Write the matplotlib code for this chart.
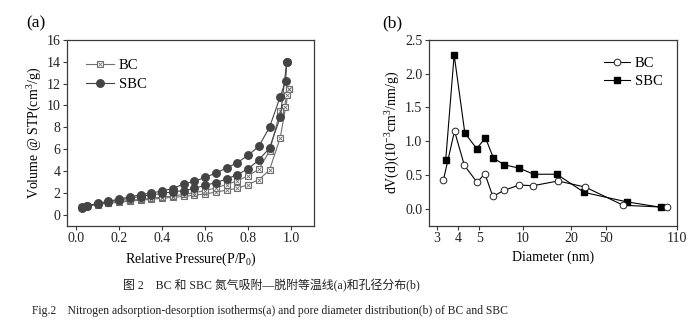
import numpy as np
import matplotlib
matplotlib.use("Agg")
import matplotlib.pyplot as plt
from matplotlib.legend_handler import HandlerTuple

# ---------------- data ----------------
# (a) N2 isotherms
bc_ads_p = [0.03, 0.05, 0.10, 0.15, 0.20, 0.25, 0.30, 0.35, 0.40, 0.45, 0.50, 0.55, 0.60,
            0.65, 0.70, 0.75, 0.80, 0.85, 0.90, 0.95, 0.99]
bc_ads_v = [0.65, 0.75, 0.92, 1.03, 1.13, 1.22, 1.32, 1.40, 1.50, 1.58, 1.66, 1.78, 1.90,
            2.05, 2.25, 2.40, 2.75, 3.20, 4.08, 7.05, 11.5]
bc_des_p = [0.99, 0.98, 0.97, 0.95, 0.90, 0.85, 0.80, 0.75, 0.70, 0.65, 0.60, 0.55, 0.50,
            0.45, 0.40, 0.35, 0.30, 0.25, 0.20, 0.15, 0.10, 0.05, 0.03]
bc_des_v = [11.5, 11.0, 9.9, 9.5, 5.8, 4.15, 3.55, 3.10, 2.75, 2.45, 2.20, 2.00, 1.85,
            1.70, 1.60, 1.50, 1.40, 1.30, 1.20, 1.10, 0.95, 0.80, 0.70]
sbc_ads_p = [0.03, 0.05, 0.10, 0.15, 0.20, 0.25, 0.30, 0.35, 0.40, 0.45, 0.50, 0.55, 0.60,
             0.65, 0.70, 0.75, 0.80, 0.85, 0.90, 0.95, 0.98]
sbc_ads_v = [0.62, 0.78, 1.00, 1.18, 1.33, 1.50, 1.65, 1.80, 1.95, 2.08, 2.20, 2.40, 2.68,
             2.93, 3.26, 3.66, 4.18, 5.00, 6.10, 8.92, 13.95]
sbc_des_p = [0.98, 0.975, 0.95, 0.90, 0.85, 0.80, 0.75, 0.70, 0.65, 0.60, 0.55, 0.50, 0.45,
             0.40, 0.35, 0.30, 0.25, 0.20, 0.15, 0.10, 0.05, 0.03]
sbc_des_v = [13.95, 12.25, 10.8, 8.0, 6.25, 5.43, 4.75, 4.27, 3.80, 3.40, 3.05, 2.80, 2.38,
             2.17, 1.97, 1.82, 1.62, 1.42, 1.22, 1.02, 0.82, 0.70]

# (b) pore size distribution
bc_d = [3.27, 3.82, 4.28, 4.88, 5.45, 6.19, 7.38, 9.43, 11.6, 16.6, 29.0, 60.4, 98.4]
bc_dv = [0.42, 1.15, 0.64, 0.39, 0.52, 0.18, 0.27, 0.35, 0.34, 0.41, 0.32, 0.05, 0.02]
sbc_d = [3.38, 3.80, 4.30, 4.86, 5.50, 6.25, 7.43, 9.43, 11.7, 16.3, 28.3, 63.0, 92.0]
sbc_dv = [0.72, 2.28, 1.12, 0.89, 1.05, 0.75, 0.65, 0.60, 0.51, 0.51, 0.24, 0.10, 0.02]
b_ticks = [3, 4, 5, 10, 20, 50, 110]
b_ticklabels = ["3", "4", "5", "10", "20", "50", "110"]

a_xticks = [0.0, 0.2, 0.4, 0.6, 0.8, 1.0]
a_yticks = [0, 2, 4, 6, 8, 10, 12, 14, 16]
b_yticks = [0.0, 0.5, 1.0, 1.5, 2.0, 2.5]

caption_cn = "图 2\u3000BC 和 SBC 氮气吸附—脱附等温线(a)和孔径分布(b)"
caption_en = "Fig.2    Nitrogen adsorption-desorption isotherms(a) and pore diameter distribution(b) of BC and SBC"

# ---------------- style ----------------
plt.rcParams['font.family'] = ['Liberation Serif', 'Noto Sans CJK SC', 'DejaVu Sans']
plt.rcParams['mathtext.fontset'] = 'custom'
plt.rcParams['mathtext.rm'] = 'Liberation Serif'
plt.rcParams['mathtext.it'] = 'Liberation Serif:italic'
plt.rcParams['font.size'] = 9
spine_c = '#3a3a3a'

fig = plt.figure(figsize=(6.92, 3.30), dpi=100)
W, H = 692, 330

def axes_px(l, t, r, b):
    return fig.add_axes([l / W, 1 - b / H, (r - l) / W, (b - t) / H])

def style(ax):
    for s in ax.spines.values():
        s.set_color(spine_c)
        s.set_linewidth(0.9)
    ax.tick_params(direction='out', length=2.8, width=0.8, color=spine_c,
                   labelsize=10, pad=2, labelcolor='#222222')

# ---- panel (a)
ax1 = axes_px(67, 40, 314, 225.5)
style(ax1)
ga = '#6f6f6f'
sa = '#444444'
for p, v in [(bc_ads_p, bc_ads_v), (bc_des_p, bc_des_v)]:
    ax1.plot(p, v, color=ga, lw=0.8, marker='s', ms=4.4, mfc='white', mec=ga, mew=0.8, zorder=2)
    ax1.plot(p, v, ls='none', marker='x', ms=3.3, mec=ga, mew=0.6, zorder=3)
for p, v in [(sbc_ads_p, sbc_ads_v), (sbc_des_p, sbc_des_v)]:
    ax1.plot(p, v, color=sa, lw=0.8, marker='o', ms=5.4, mfc=sa, mec=sa, zorder=4)

h_bc1, = ax1.plot([], [], color=ga, lw=0.8, marker='s', ms=4.4, mfc='white', mec=ga, mew=0.8)
h_bc2, = ax1.plot([], [], ls='none', marker='x', ms=3.3, mec=ga, mew=0.6)
h_sbc, = ax1.plot([], [], color=sa, lw=0.8, marker='o', ms=5.4, mfc=sa, mec=sa)
ax1.legend([(h_bc1, h_bc2), h_sbc], ["BC", "SBC"], handler_map={tuple: HandlerTuple(ndivide=1)},
           loc='upper left', bbox_to_anchor=(0.055, 0.93), frameon=False, fontsize=10.5,
           handlelength=1.9, handletextpad=0.3, labelspacing=0.4, borderaxespad=0)

ax1.set_xlim(-0.042, 1.107)
ax1.set_ylim(-1, 16)
ax1.set_xticks(a_xticks)
ax1.set_xticklabels([f"{t:.1f}" for t in a_xticks])
ax1.set_yticks(a_yticks)
ax1.set_xlabel("Relative Pressure(P/P$_0$)", fontsize=10, labelpad=4)
ax1.set_ylabel("Volume @ STP(cm$^3$/g)", fontsize=10, labelpad=2)
fig.text(26 / W, 1 - 23 / H, "(a)", fontsize=12.5, va='center', ha='left')

# ---- panel (b)
ax2 = axes_px(429, 40, 677, 225.5)
style(ax2)

# tick-anchored logarithmic scale (as on the original axis)
_L = np.log10(np.array([2.0] + b_ticks + [200.0], dtype=float))
_P = np.array([-29.2, 0, 20.7, 42.3, 85.7, 133.7, 169.0, 239.7, 293.3])

def fwd(x):
    x = np.asarray(x, dtype=float)
    lx = np.log10(np.clip(x, 1e-9, None))
    return np.interp(lx, _L, _P)

def inv(y):
    return 10 ** np.interp(np.asarray(y, dtype=float), _P, _L)

ax2.set_xscale('function', functions=(fwd, inv))
ax2.plot(bc_d, bc_dv, color='black', lw=0.8, marker='o', ms=4.8, mfc='white', mec='#222222',
         mew=0.7, label='BC', zorder=3)
ax2.plot(sbc_d, sbc_dv, color='black', lw=0.8, marker='s', ms=4.8, mfc='black', mec='black',
         label='SBC', zorder=2)
ax2.set_xlim(2.68, 110)
ax2.set_ylim(-0.25, 2.5)
ax2.set_xticks(b_ticks)
ax2.set_xticklabels(b_ticklabels)
ax2.xaxis.set_minor_locator(matplotlib.ticker.NullLocator())
ax2.set_yticks(b_yticks)
ax2.set_yticklabels([f"{t:.1f}" for t in b_yticks])
ax2.set_xlabel("Diameter (nm)", fontsize=10, labelpad=4)
ax2.set_ylabel("dV(d)(10$^{-3}$cm$^3$/nm/g)", fontsize=10, labelpad=2)
ax2.legend(loc='upper right', bbox_to_anchor=(0.965, 0.94), frameon=False, fontsize=10.5,
           handlelength=1.8, handletextpad=0.3, labelspacing=0.3, borderaxespad=0)
fig.text(382 / W, 1 - 23 / H, "(b)", fontsize=12.5, va='center', ha='left')

# ---- captions
fig.text(271 / W, 1 - 286 / H, caption_cn, fontsize=8.6, ha='center', va='center',
         color='#222222')
fig.text(270 / W, 1 - 311 / H, caption_en, fontsize=8.4, ha='center', va='center',
         color='#222222')

fig.savefig("out.png", dpi=100)
